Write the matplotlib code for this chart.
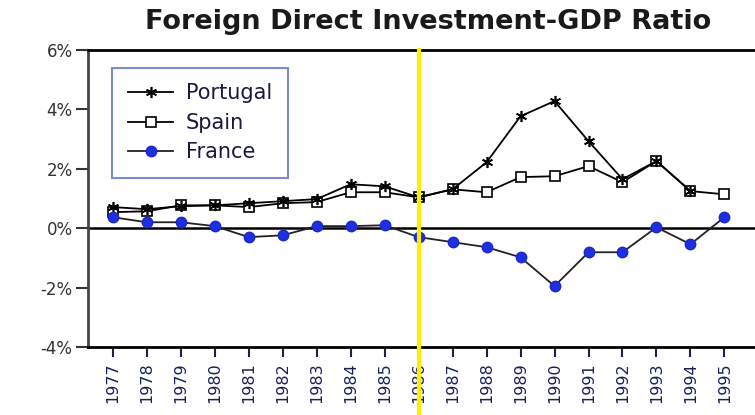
import numpy as np
import matplotlib
matplotlib.use("Agg")
import matplotlib.pyplot as plt
from matplotlib.ticker import FuncFormatter

# data (percent of GDP)
years = list(range(1977, 1996))
portugal = [0.71, 0.64, 0.74, 0.77, 0.84, 0.91, 0.98, 1.48, 1.41, 1.04,
            1.31, 2.22, 3.77, 4.28, 2.93, 1.65, 2.26, 1.25, np.nan]
spain = [0.54, 0.57, 0.77, 0.77, 0.71, 0.84, 0.88, 1.21, 1.21, 1.04,
         1.31, 1.21, 1.72, 1.75, 2.09, 1.55, 2.26, 1.25, 1.14]
france = [0.37, 0.20, 0.20, 0.07, -0.30, -0.24, 0.07, 0.07, 0.10, -0.30,
          -0.47, -0.64, -0.98, -1.95, -0.81, -0.81, 0.03, -0.54, 0.37]
yticks = [-4, -2, 0, 2, 4, 6]
marker_year = 1986

fig = plt.figure(figsize=(7.55, 4.15), dpi=100)
ax = fig.add_axes([88/755, 68/415, 1 - 88/755, 297/415])

ax.axhline(0, color='black', lw=1.8, zorder=1)

ax.plot(years, portugal, color='black', lw=1.3, marker=(6, 2, 0), ms=8,
        mec='black', mew=1.2, label='Portugal', zorder=3)
ax.plot(years, spain, color='black', lw=1.3, marker='s', ms=7,
        mfc='white', mec='black', mew=1.2, label='Spain', zorder=2)
ax.plot(years, france, color='#222222', lw=1.3, marker='o', ms=7.5,
        mfc='#1f2fe0', mec='#1a28c8', label='France', zorder=3)

ax.axvline(marker_year, ymin=-0.25, ymax=1.0, color='#ffee00', lw=3,
           clip_on=False, zorder=4)

ax.set_xlim(1976.27, 1995.9)
ax.set_ylim(-4, 6)
ax.set_yticks(yticks)
ax.yaxis.set_major_formatter(FuncFormatter(lambda v, p: '%d%%' % v))
ax.set_xticks(years)
ax.set_xticklabels([str(y) for y in years], rotation=90)
ax.tick_params(axis='y', direction='out', length=9, width=1.5,
               colors='#333333', labelsize=12, pad=2)
ax.tick_params(axis='x', direction='out', length=7, width=1.5,
               colors='#1a1f5a', labelsize=11.5, pad=4)
for t in ax.get_yticklabels():
    t.set_color('#333333')

ax.spines['right'].set_visible(False)
ax.spines['top'].set_linewidth(2)
ax.spines['bottom'].set_linewidth(2)
ax.spines['left'].set_linewidth(2)
ax.spines['left'].set_color('#444444')

leg = ax.legend(loc='upper left', bbox_to_anchor=(0.036, 0.94), fontsize=15,
                frameon=True, fancybox=False, handlelength=2.2,
                borderpad=0.75, labelspacing=0.45, handletextpad=0.6,
                borderaxespad=0)
leg.get_frame().set_edgecolor('#5a6fc0')
leg.get_frame().set_linewidth(1.5)
for t in leg.get_texts():
    t.set_color('#1a1a40')

fig.text(0.567, 0.947, 'Foreign Direct Investment-GDP Ratio', ha='center',
         va='center', fontsize=19.5, fontweight='bold', color='#1a1a1a')

fig.savefig('out.png', dpi=100)
